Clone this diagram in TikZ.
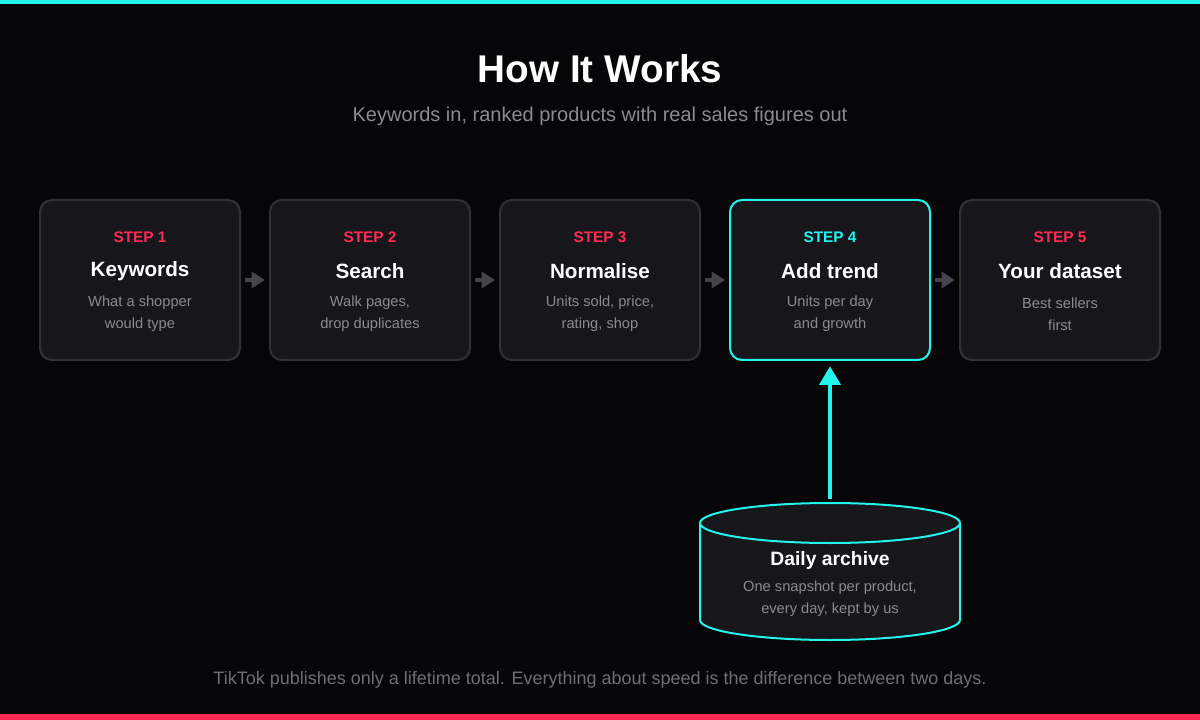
\documentclass[tikz,border=0pt]{standalone}
\usepackage{fontspec}
\setmainfont{Liberation Sans}
\usetikzlibrary{arrows.meta}
\definecolor{bg}{HTML}{060608}
\definecolor{cy}{HTML}{25F4EE}
\definecolor{rd}{HTML}{FE2C55}
\definecolor{boxf}{HTML}{16161B}
\definecolor{boxd}{HTML}{303036}
\definecolor{gr}{HTML}{8A8A94}
\definecolor{ar}{HTML}{44444C}
\begin{document}
\begin{tikzpicture}[x=0.75pt,y=-0.75pt,
 stepbox/.style={draw=boxd,line width=1.5pt,fill=boxf,rounded corners=9pt,minimum width=150pt,minimum height=120pt},
 lab/.style={font=\bfseries\fontsize{11.5}{13}\selectfont,text=rd},
 ttl/.style={font=\bfseries\fontsize{15.5}{18}\selectfont,text=white},
 dsc/.style={font=\fontsize{11}{16.5}\selectfont,text=gr,align=center},
 con/.style={draw=ar,line width=2.5pt,-{Triangle[length=10pt,width=12pt]}}]
\fill[bg] (0,0) rectangle (1200,720);
\useasboundingbox (0,0) rectangle (1200,720);
\fill[cy] (0,0) rectangle (1200,4);
\fill[rd] (0,714) rectangle (1200,720);
\node[font=\bfseries\fontsize{29}{34}\selectfont,text=white] (title) at (600,69) {How It Works};
\node[font=\fontsize{15}{18}\selectfont,text=gr] (sub) at (600,116) {Keywords in, ranked products with real sales figures out};
\foreach \i/\x/\t/\a/\b in {1/140/Keywords/What a shopper/would type,2/370/Search/Walk pages{,}/drop duplicates,3/600/Normalise/Units sold{,} price{,}/rating{,} shop,5/1060/Your dataset/Best sellers/first}{
 \node[stepbox] (s\i) at (\x,280) {};
 \node[lab] (l\i) at (\x,237) {STEP \i};
 \node[ttl] (t\i) at (\x,271) {\t};
 \node[dsc] (d\i) at (\x,314) {\a\\\b};
}
\node[stepbox,draw=cy] (s4) at (830,280) {};
\node[lab,text=cy] (l4) at (830,237) {STEP 4};
\node[ttl] (t4) at (830,271) {Add trend};
\node[dsc] (d4) at (830,314) {Units per day\\and growth};
\foreach \i/\j in {1/2,2/3,3/4,4/5}{\draw[con] ([xshift=3pt]s\i.east) -- ([xshift=-3pt]s\j.west);}
% cylinder
\draw[cy,line width=1.5pt,fill=boxf] (700,523) -- (700,620) arc[start angle=180,end angle=0,x radius=130,y radius=20] -- (960,523);
\draw[cy,line width=1.5pt,fill=boxf] (830,523) ellipse[x radius=130,y radius=20];
\coordinate (db) at (830,499);
\node[ttl,font=\bfseries\fontsize{14.5}{17}\selectfont] (dbt) at (830,560) {Daily archive};
\node[dsc] (dbd) at (830,599) {One snapshot per product,\\every day, kept by us};
\draw[cy,line width=2.5pt,-{Triangle[length=14pt,width=16pt]}] (db) -- ([yshift=-4pt]s4.south);
\node[font=\fontsize{13.5}{16}\selectfont,text=gr!80!black] (foot) at (600,680) {TikTok publishes only a lifetime total. Everything about speed is the difference between two days.};
\end{tikzpicture}
\end{document}
